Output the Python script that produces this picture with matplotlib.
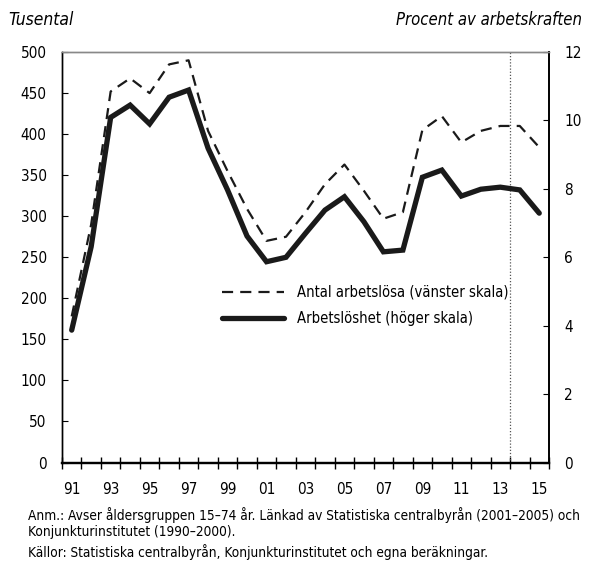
import matplotlib
matplotlib.use("agg")
import matplotlib.pyplot as plt
from matplotlib.ticker import FixedLocator

plt.rcParams["font.family"] = ["DejaVu Sans"]
plt.rcParams["font.stretch"] = "condensed"

years = ["91", "92", "93", "94", "95", "96", "97", "98", "99", "00",
         "01", "02", "03", "04", "05", "06", "07", "08", "09", "10",
         "11", "12", "13", "14", "15"]

# Antal arbetslösa, tusental (vänster skala)
antal = [178, 290, 452, 468, 450, 485, 490, 404, 355, 309,
         270, 275, 305, 339, 363, 331, 297, 305, 405, 422,
         390, 404, 410, 410, 384]

# Arbetslöshet, procent (höger skala)
procent = [3.87, 6.31, 10.09, 10.45, 9.90, 10.68, 10.89, 9.19, 7.97, 6.62,
           5.87, 6.00, 6.70, 7.38, 7.77, 7.04, 6.16, 6.21, 8.34, 8.55,
           7.79, 7.99, 8.05, 7.97, 7.29]

forecast_from = 23  # index of 14

fig = plt.figure(figsize=(5.9, 5.63), dpi=100)
ax = fig.add_axes([0.105, 0.1785, 0.8255, 0.729])
ax2 = ax.twinx()

x = list(range(len(years)))
ldash, = ax.plot(x, antal, color="#1a1a1a", lw=1.6, ls=(0, (5, 3.2)),
                 label="Antal arbetslösa (vänster skala)")
lsolid, = ax2.plot(x, procent, color="#1a1a1a", lw=3.8,
                   solid_capstyle="round", solid_joinstyle="miter",
                   label="Arbetslöshet (höger skala)")

ax.axvline(forecast_from - 0.5, color="#555555", lw=0.9, ls=(0, (1, 1.5)))

ax.set_xlim(-0.5, len(years) - 0.5)
ax.set_ylim(0, 500)
ax2.set_ylim(0, 12)
ax.set_yticks(range(0, 501, 50))
ax2.set_yticks(range(0, 13, 2))

ax.set_xticks(x[::2])
ax.set_xticklabels(years[::2])
ax.xaxis.set_minor_locator(FixedLocator([i - 0.5 for i in range(len(years) + 1)]))
ax.tick_params(axis="x", which="major", length=0, pad=14, labelsize=11)
ax.tick_params(axis="x", which="minor", direction="inout", length=9, width=1.0)
ax.tick_params(axis="y", direction="in", length=4, width=0.8, labelsize=11, pad=11)
ax2.tick_params(axis="y", direction="in", length=4, width=0.8, labelsize=11, pad=11)

for a in (ax, ax2):
    a.spines["top"].set_color("#888888")
    a.spines["top"].set_linewidth(1.0)
    a.spines["left"].set_linewidth(1.0)
    a.spines["right"].set_linewidth(1.2)
    a.spines["bottom"].set_linewidth(1.6)

leg = ax.legend([ldash, lsolid], [ldash.get_label(), lsolid.get_label()],
                loc="upper left", bbox_to_anchor=(0.302, 0.465), frameon=False,
                fontsize=10.6, handlelength=4.2, handletextpad=0.9,
                labelspacing=0.75)

fig.text(0.014, 0.965, "Tusental", fontsize=12.5, style="italic", va="center")
fig.text(0.986, 0.965, "Procent av arbetskraften", fontsize=12,
         style="italic", va="center", ha="right")

fig.text(0.047, 0.071,
         "Anm.: Avser åldersgruppen 15–74 år. Länkad av Statistiska centralbyrån (2001–2005) och\n"
         "Konjunkturinstitutet (1990–2000).",
         fontsize=9.8, va="center", linespacing=1.2)
fig.text(0.047, 0.019,
         "Källor: Statistiska centralbyrån, Konjunkturinstitutet och egna beräkningar.",
         fontsize=9.8, va="center")

fig.savefig("out.png", dpi=100)
